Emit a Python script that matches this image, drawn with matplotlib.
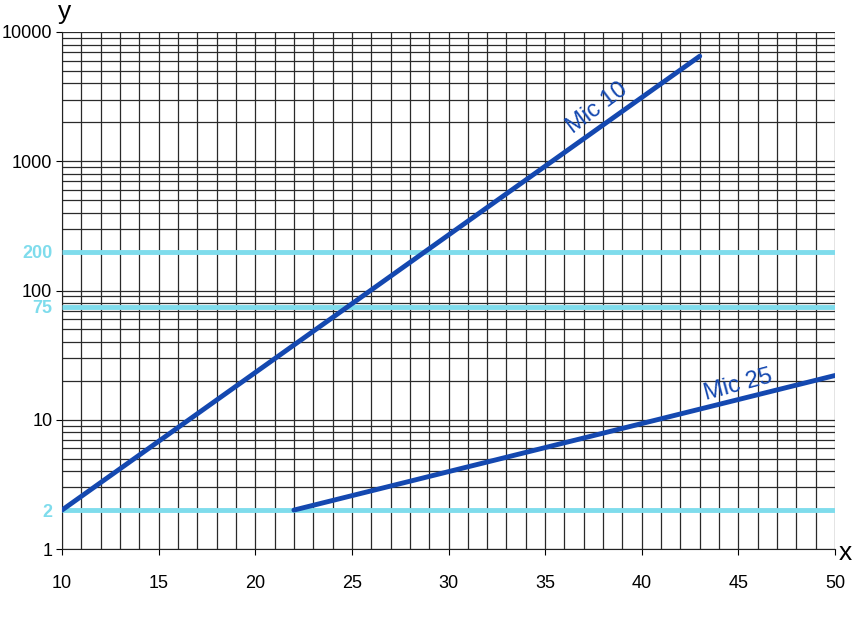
import numpy as np
import matplotlib
matplotlib.use('Agg')
import matplotlib.pyplot as plt
from matplotlib.ticker import FixedLocator, LogLocator, NullFormatter

# Mic 10 / Mic 25 lines (end points)
mic10_x = [10, 43]
mic10_y = [2, 6500]
mic25_x = [22, 50]
mic25_y = [2, 22]

limit_levels = [2, 75, 200]
major_y = [1, 10, 100, 1000, 10000]
x_ticks = [10, 15, 20, 25, 30, 35, 40, 45, 50]

line_blue = '#1448b0'
cyan = '#7fdcec'
grid_col = '#2a2a2a'

plt.rcParams['font.family'] = ['Liberation Sans', 'DejaVu Sans']

fig = plt.figure(figsize=(8.63, 6.39), dpi=100)
ax = fig.add_axes([62 / 863, 1 - 549 / 639, (835 - 62) / 863, (549 - 32) / 639])

ax.set_yscale('log')
ax.set_xlim(10, 50)
ax.set_ylim(1, 10000)

# grid: every unit in x, every 1..9 step in y
ax.xaxis.set_minor_locator(FixedLocator(np.arange(10, 51, 1)))
ax.yaxis.set_minor_locator(LogLocator(base=10, subs=np.arange(1, 10)))
ax.yaxis.set_minor_formatter(NullFormatter())
ax.grid(which='both', color=grid_col, linewidth=0.9)
ax.tick_params(which='minor', length=0)
ax.set_axisbelow(True)

for lv in limit_levels:
    ax.plot([10, 50], [lv, lv], color=cyan, linewidth=3.5, solid_capstyle='butt', zorder=3)

ax.plot(mic10_x, mic10_y, color=line_blue, linewidth=3.5, solid_capstyle='round', zorder=4)
ax.plot(mic25_x, mic25_y, color=line_blue, linewidth=3.5, solid_capstyle='round', zorder=4)

ax.text(36.6, 1500, 'Mic 10', color=line_blue, fontsize=17, rotation=37,
        rotation_mode='anchor', ha='left', va='bottom')
ax.text(43.4, 13.0, 'Mic 25', color=line_blue, fontsize=17, rotation=15,
        rotation_mode='anchor', ha='left', va='bottom')

# ticks
ax.set_xticks(x_ticks)
ax.set_xticklabels([str(t) for t in x_ticks])
yt = sorted(major_y + limit_levels)
ax.set_yticks(yt)
ax.set_yticklabels([str(t) for t in yt])
for lab, val in zip(ax.get_yticklabels(), yt):
    if val in limit_levels:
        lab.set_color(cyan)
        lab.set_fontweight('bold')
ax.tick_params(axis='x', which='major', length=4, pad=15, labelsize=13)
ax.tick_params(axis='y', which='major', length=4, pad=3, labelsize=13)
for t in ax.yaxis.get_major_ticks():
    if t.get_loc() in limit_levels:
        t.tick1line.set_visible(False)

for s in ['top', 'right']:
    ax.spines[s].set_visible(False)
ax.spines['left'].set_color('#222222')
ax.spines['bottom'].set_color('#222222')

fig.text(845 / 863, 1 - 553 / 639, 'x', fontsize=19, ha='center', va='center')
fig.text(65 / 863, 1 - 12 / 639, 'y', fontsize=19, ha='center', va='center')

fig.savefig('out.png', dpi=100)
